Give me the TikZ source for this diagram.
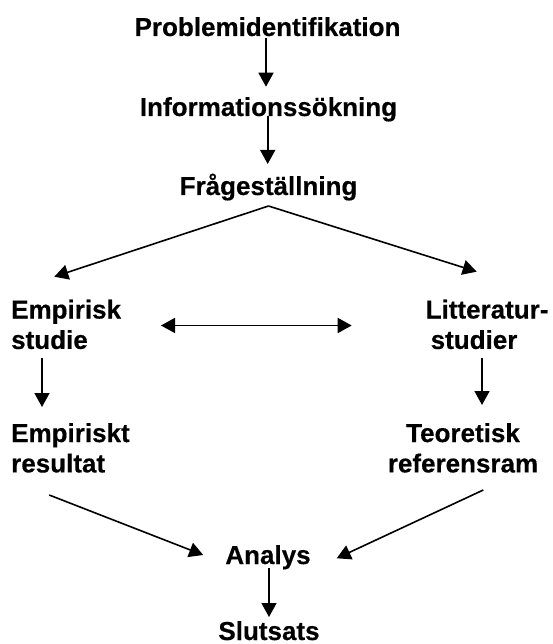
\documentclass[tikz,border=0pt]{standalone}
\usepackage{fontspec}
\setmainfont{Liberation Sans}[BoldFeatures={FakeBold=0.4}]
\usetikzlibrary{arrows.meta}
\begin{document}
\begin{tikzpicture}[x=1pt,y=-1pt,
  lbl/.style={inner sep=0pt, font=\bfseries\fontsize{26}{30.4}\selectfont},
  tip/.tip={Triangle[length=14pt,width=15pt]},
  arr/.style={line width=1.6pt, -tip},
  dbl/.style={line width=1.6pt, tip-tip}]
\useasboundingbox (0,0) rectangle (552,644);
% nodes
\node[lbl,anchor=base] (p) at (267.5,36) {Problemidentifikation};
\node[lbl,anchor=base] (i) at (268.5,116) {Informationssökning};
\node[lbl,anchor=base] (f) at (268.5,195) {Frågeställning};
\node[lbl,anchor=north west,align=left] (e) at (11,299.5) {Empirisk\\studie};
\node[lbl,anchor=north west,align=left] (l) at (425.5,299.5) {Litteratur-\\\hspace*{5pt}studier};
\node[lbl,anchor=north west,align=left] (r) at (11,423) {Empiriskt\\resultat};
\node[lbl,anchor=north,align=center] (t) at (463,423) {Teoretisk\\referensram};
\node[lbl,anchor=base] (a) at (268,564) {Analys};
\node[lbl,anchor=base] (s) at (269,640) {Slutsats};
% connectors
\coordinate (fk) at ([yshift=-11pt]f.base);
\draw[arr] ([xshift=-1.5pt,yshift=-2pt]p.base) -- ([xshift=-2.5pt,yshift=29.3pt]i.base);
\draw[arr] ([xshift=-0.8pt]i.base) -- ([xshift=-0.8pt,yshift=31pt]f.base);
\draw[arr] (fk) -- ([xshift=43.3pt,yshift=22.8pt]e.north west);
\draw[arr] (fk) -- ([xshift=51.2pt,yshift=27.8pt]l.north west);
\draw[dbl] ([xshift=150pt,yshift=-26pt]e.north west) -- ([xshift=-73.8pt,yshift=-26pt]l.north west);
\draw[arr] ([xshift=31pt,yshift=-58.5pt]e.north west) -- ([xshift=31pt,yshift=16pt]r.north west);
\draw[arr] ([xshift=56.5pt,yshift=-58.8pt]l.north west) -- ([xshift=19pt,yshift=18pt]t.north);
\draw[arr] ([xshift=38.2pt,yshift=-72pt]r.north west) -- ([xshift=-64.8pt,yshift=9pt]a.base);
\draw[arr] ([xshift=20.3pt,yshift=-67pt]t.north) -- ([xshift=68.7pt,yshift=5.7pt]a.base);
\draw[arr] ([xshift=1pt,yshift=-4pt]a.base) -- ([xshift=0pt,yshift=23pt]s.base);
\end{tikzpicture}
\end{document}
